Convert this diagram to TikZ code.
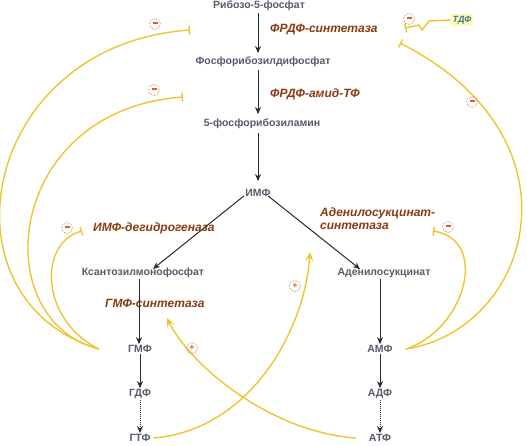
\documentclass[tikz,border=0pt]{standalone}
\usepackage{fontspec}
\setmainfont{Liberation Sans}
\usetikzlibrary{arrows.meta}
\definecolor{metc}{HTML}{555B6B}
\definecolor{enzc}{HTML}{8A3A12}
\definecolor{yelc}{HTML}{F0C430}
\definecolor{sgnc}{HTML}{D4602A}
\definecolor{arrc}{HTML}{2A2A2A}
\definecolor{tdfbg}{HTML}{FDFBB8}
\definecolor{tdfc}{HTML}{4A7A8A}
\begin{document}
\begin{tikzpicture}[x=1pt,y=-1pt,
  met/.style={font=\fontsize{10.5}{12}\selectfont\bfseries, text=metc, inner sep=1pt},
  enzl/.style={font=\fontsize{12}{13}\selectfont\bfseries\itshape, text=enzc, anchor=west, inner sep=0pt, align=left},
  blk/.style={draw=arrc, line width=1pt, -{Stealth[length=7pt,width=6pt]}},
  dotarr/.style={blk, densely dotted},
  fb/.style={draw=yelc, line width=1.4pt, -{Bar[width=9pt,line width=1.4pt]}},
  act/.style={draw=yelc, line width=1.4pt, -{Stealth[length=9pt,width=8pt,inset=4pt]}},
  sign/.style={circle, draw=sgnc, densely dotted, line width=0.6pt, minimum size=11pt, inner sep=0pt, text=sgnc},
]
\useasboundingbox (0,0) rectangle (527,445);
% metabolites
\node[met] (r5p) at (259,6) {Рибозо-5-фосфат};
\node[met] (prpp) at (263,62) {Фосфорибозилдифосфат};
\node[met] (pra) at (262,124) {5-фосфорибозиламин};
\node[met] (imp) at (258,193) {ИМФ};
\node[met] (xmp) at (143,273) {Ксантозилмонофосфат};
\node[met] (ads) at (384,273) {Аденилосукцинат};
\node[met] (gmp) at (140,349) {ГМФ};
\node[met] (gdp) at (140,394) {ГДФ};
\node[met] (gtp) at (140,438) {ГТФ};
\node[met] (amp) at (380,349) {АМФ};
\node[met] (adp) at (380,394) {АДФ};
\node[met] (atp) at (380,438) {АТФ};
% enzymes
\node[enzl] (e1) at (270,30) {ФРДФ-синтетаза};
\node[enzl] (e2) at (270,94) {ФРДФ-амид-ТФ};
\node[enzl] (e3) at (93,228) {ИМФ-дегидрогеназа};
\node[enzl] (e4) at (320,219) {Аденилосукцинат-\\синтетаза};
\node[enzl] (e5) at (105,303) {ГМФ-синтетаза};
\node[font=\fontsize{9}{10}\selectfont\bfseries\itshape, text=tdfc, fill=tdfbg, inner sep=2pt] (tdf) at (462,20) {ТДФ};
% black arrows
\draw[blk] (258,13) -- (258,53);
\draw[blk] (258,70) -- (258,114);
\draw[blk] (258,133) -- (258,181);
\draw[blk] ([xshift=-14pt,yshift=2pt]imp.south) -- ([xshift=10pt,yshift=-2pt]xmp.north);
\draw[blk] ([xshift=10pt,yshift=2pt]imp.south) -- ([xshift=-24pt,yshift=-2pt]ads.north);
\draw[blk] ([xshift=-4pt]xmp.south) -- (gmp.north -| 139,0);
\draw[blk] (gmp) -- (gdp);
\draw[dotarr] (gdp) -- (gtp);
\draw[blk] (ads.south -| amp) -- (amp);
\draw[blk] (amp) -- (adp);
\draw[dotarr] (adp) -- (atp);
% free ends
\coordinate (i1) at (190,30);
\coordinate (i2) at (183,97);
\coordinate (i3) at (82,231);
\coordinate (a1) at (310,252);
\coordinate (a2) at (167,318);
\coordinate (i4) at (433,231);
\coordinate (i5) at (400,43);
\coordinate (gm) at ([xshift=-28pt]gmp.west);
\coordinate (am) at ([xshift=12pt]amp.east);
% yellow regulation curves
\draw[fb] (gm) .. controls (-65,300) and (-20,45) .. (i1);
\draw[fb] (gm) .. controls (-15,320) and (5,110) .. (i2);
\draw[fb] (gm) .. controls (40,320) and (38,243) .. (i3);
\draw[act] ([xshift=2pt]gtp.east) .. controls (250,430) and (305,330) .. (a1);
\draw[act] ([xshift=-12pt]atp.west) .. controls (270,432) and (190,365) .. (a2);
\draw[fb] (am) .. controls (465,330) and (490,240) .. (i4);
\draw[fb] (am) .. controls (530,330) and (590,140) .. (i5);
\draw[draw=yelc, line width=1.4pt, -{Bar[width=9pt,line width=1.4pt]}] (tdf.west) -- (429,21) -- (422,30) -- (419,25) -- (405,28);
% signs
\node[sign] (m1) at (155,24) {\rule[2.2pt]{5pt}{1.2pt}};
\node[sign] (m2) at (154,90) {\rule[2.2pt]{5pt}{1.2pt}};
\node[sign] (m3) at (67,228) {\rule[2.2pt]{5pt}{1.2pt}};
\node[sign] (m4) at (409,19) {\rule[2.2pt]{5pt}{1.2pt}};
\node[sign] (m5) at (472,102) {\rule[2.2pt]{5pt}{1.2pt}};
\node[sign] (m6) at (448,227) {\rule[2.2pt]{5pt}{1.2pt}};
\node[sign, font=\fontsize{9}{9}\selectfont\bfseries] (p1) at (295,286) {+};
\node[sign, font=\fontsize{9}{9}\selectfont\bfseries] (p2) at (192,348) {+};
\end{tikzpicture}
\end{document}
